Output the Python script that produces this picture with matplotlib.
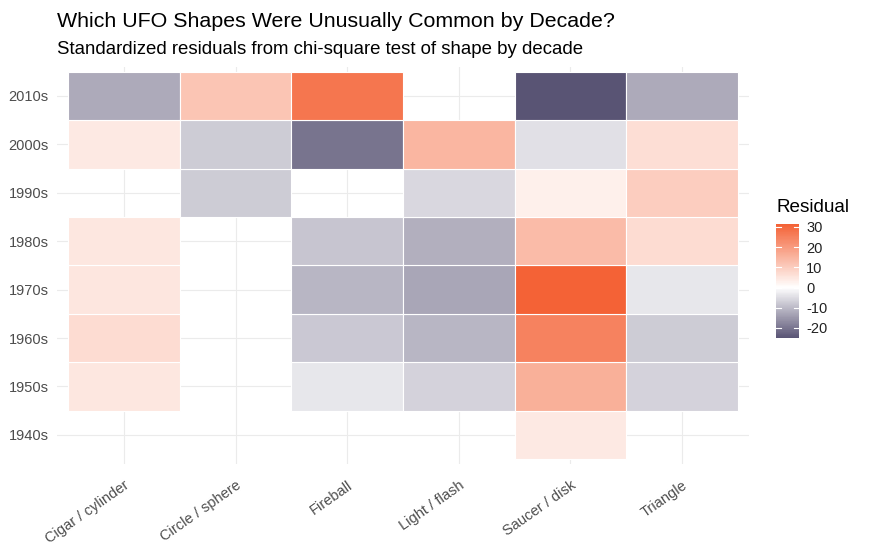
import numpy as np
import matplotlib
matplotlib.use("Agg")
import matplotlib.pyplot as plt
from matplotlib.colors import LinearSegmentedColormap, Normalize

plt.rcParams['font.family'] = ['Liberation Sans', 'DejaVu Sans']
plt.rcParams['axes.unicode_minus'] = False

shapes = ["Cigar / cylinder", "Circle / sphere", "Fireball", "Light / flash", "Saucer / disk", "Triangle"]
decades = ["1940s", "1950s", "1960s", "1970s", "1980s", "1990s", "2000s", "2010s"]

# standardized residuals, one list per decade (NaN = no tile)
nan = np.nan
r1940 = [nan, nan, nan, nan, 4.2, nan]
r1950 = [5.0, nan, -3.4, -6.6, 15.9, -6.6]
r1960 = [7.2, nan, -7.9, -10.8, 24.9, -7.5]
r1970 = [5.2, nan, -10.7, -13.0, 31.5, -3.4]
r1980 = [5.0, nan, -8.5, -11.6, 13.6, 6.8]
r1990 = [nan, -7.5, nan, -5.6, 3.2, 10.0]
r2000 = [4.2, -7.5, -20.2, 14.6, -4.5, 6.4]
r2010 = [-12.3, 11.8, 27.5, nan, -25.0, -12.3]

resid = np.array([r1940, r1950, r1960, r1970, r1980, r1990, r2000, r2010])

low, high = "#2F2851", "#F46236"
full = LinearSegmentedColormap.from_list("div", [low, "white", high])
vmin, vmax = np.nanmin(resid), np.nanmax(resid)
lim = max(abs(vmin), abs(vmax))
f0 = (vmin + lim) / (2 * lim)
cmap = LinearSegmentedColormap.from_list("trunc", full(np.linspace(f0, 1, 256)))
norm = Normalize(vmin, vmax)

fig = plt.figure(figsize=(8.69, 5.51), dpi=100)
ax = fig.add_axes([0.0656, 0.158, 0.7964, 0.7206])

for i, dec in enumerate(decades):
    for j, sh in enumerate(shapes):
        v = resid[i, j]
        if np.isnan(v):
            continue
        ax.add_patch(plt.Rectangle((j + 0.5, i + 0.5), 1, 1, facecolor=cmap(norm(v)),
                                   edgecolor="white", linewidth=0.8, zorder=2))

ax.set_xlim(0.4, len(shapes) + 0.6)
ax.set_ylim(0.4, len(decades) + 0.6)
ax.set_xticks(range(1, len(shapes) + 1))
ax.set_xticklabels(shapes, rotation=35, ha="right", rotation_mode="anchor")
ax.set_yticks(range(1, len(decades) + 1))
ax.set_yticklabels(decades)
ax.tick_params(length=0, labelsize=10.5, labelcolor="#4D4D4D", pad=6)
ax.tick_params(axis="x", pad=10)
ax.grid(True, color="#EBEBEB", linewidth=0.8, zorder=0)
ax.set_axisbelow(True)
for s in ax.spines.values():
    s.set_visible(False)

fig.text(0.0656, 0.951, "Which UFO Shapes Were Unusually Common by Decade?", fontsize=15.4, ha="left", va="baseline")
fig.text(0.0656, 0.902, "Standardized residuals from chi-square test of shape by decade", fontsize=13.4, ha="left", va="baseline")

cax = fig.add_axes([0.893, 0.3866, 0.0265, 0.207])
sm = plt.cm.ScalarMappable(norm=norm, cmap=cmap)
cb = fig.colorbar(sm, cax=cax, ticks=[-20, -10, 0, 10, 20, 30])
cb.outline.set_visible(False)
cax.tick_params(length=0, labelsize=10.5, labelcolor="#222222", pad=5)
for t in [-20, -10, 0, 10, 20, 30]:
    cax.plot([0, 0.2], [t, t], color="white", lw=0.8, transform=cax.get_yaxis_transform())
    cax.plot([0.8, 1.0], [t, t], color="white", lw=0.8, transform=cax.get_yaxis_transform())
fig.text(0.893, 0.615, "Residual", fontsize=13.6, ha="left", va="baseline")

fig.savefig("out.png", dpi=100)
